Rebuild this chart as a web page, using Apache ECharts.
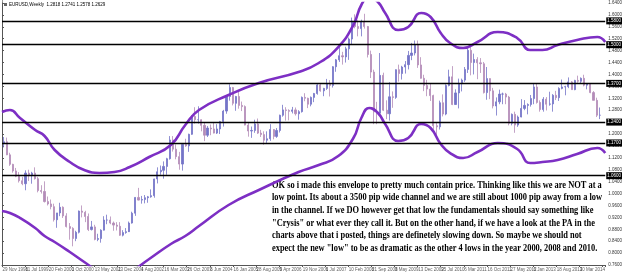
<!DOCTYPE html>
<html>
<head>
<meta charset="utf-8">
<script src="https://cdn.jsdelivr.net/npm/echarts@6/dist/echarts.min.js"></script>
<style>
html, body { margin: 0; padding: 0; background: #fff; }
#main { width: 625px; height: 274px; }
</style>
</head>
<body>
<div id="main"></div>
<script>
// EURUSD monthly bars, Dec 1998 .. Oct 2014 (open = previous close)
var firstOpen = 1.1700;
var closes = [1.1740,
  1.1300,1.0980,1.0760,1.0580,1.0430,1.0330,1.0690,1.0600,1.0690,1.0500,1.0100,1.0070,
  0.9730,0.9650,0.9560,0.9120,0.9350,0.9540,0.9250,0.8890,0.8830,0.8490,0.8700,0.9410,
  0.9370,0.9230,0.8790,0.8880,0.8460,0.8490,0.8770,0.9110,0.9110,0.9010,0.8940,0.8900,
  0.8600,0.8690,0.8720,0.9010,0.9340,0.9870,0.9780,0.9800,0.9860,0.9890,0.9930,1.0490,
  1.0730,1.0780,1.0910,1.1170,1.1800,1.1490,1.1240,1.0990,1.1650,1.1600,1.1990,1.2590,
  1.2480,1.2480,1.2290,1.1960,1.2200,1.2170,1.2030,1.2170,1.2420,1.2770,1.3260,1.3560,
  1.3030,1.3260,1.2960,1.2920,1.2300,1.2100,1.2120,1.2340,1.2030,1.1980,1.1790,1.1840,
  1.2150,1.1920,1.2120,1.2630,1.2810,1.2790,1.2760,1.2810,1.2680,1.2750,1.3230,1.3200,
  1.3000,1.3230,1.3360,1.3650,1.3450,1.3530,1.3680,1.3630,1.4260,1.4490,1.4630,1.4590,
  1.4860,1.5190,1.5790,1.5610,1.5540,1.5760,1.5610,1.4670,1.4080,1.2740,1.2700,1.3970,
  1.2800,1.2680,1.3250,1.3230,1.4160,1.4030,1.4250,1.4330,1.4640,1.4720,1.5000,1.4320,
  1.3870,1.3630,1.3510,1.3290,1.2280,1.2240,1.3050,1.2670,1.3630,1.3920,1.2990,1.3380,
  1.3690,1.3810,1.4170,1.4810,1.4400,1.4500,1.4390,1.4360,1.3390,1.3860,1.3450,1.2940,
  1.3080,1.3340,1.3340,1.3240,1.2360,1.2660,1.2300,1.2570,1.2860,1.2960,1.2990,1.3190,
  1.3580,1.3060,1.2820,1.3170,1.3000,1.3010,1.3300,1.3220,1.3530,1.3580,1.3590,1.3750,
  1.3490,1.3800,1.3770,1.3870,1.3640,1.3690,1.3390,1.3130,1.2630,1.2630];
var highs = [1.1900,
  1.1880,1.1370,1.1000,1.0860,1.0720,1.0560,1.0780,1.0800,1.0730,1.0880,1.0560,1.0280,
  1.0410,0.9900,0.9800,0.9660,0.9350,0.9690,0.9570,0.9340,0.9010,0.8870,0.8750,0.9430,
  0.9600,0.9420,0.9330,0.9080,0.8950,0.8650,0.8800,0.9240,0.9290,0.9230,0.9060,0.9040,
  0.9040,0.8770,0.8840,0.9060,0.9390,0.9880,1.0190,0.9920,0.9950,0.9920,1.0140,1.0500,
  1.0880,1.0940,1.1080,1.1200,1.1930,1.1930,1.1650,1.1400,1.1680,1.1840,1.2010,1.2630,
  1.2900,1.2930,1.2450,1.2370,1.2270,1.2320,1.2390,1.2330,1.2440,1.2810,1.3300,1.3670,
  1.3580,1.3280,1.3480,1.3090,1.2960,1.2370,1.2250,1.2480,1.2520,1.2140,1.2090,1.2090,
  1.2330,1.2160,1.2200,1.2650,1.2980,1.2900,1.2830,1.2910,1.2890,1.2800,1.3260,1.3370,
  1.3220,1.3260,1.3380,1.3680,1.3680,1.3550,1.3850,1.3810,1.4280,1.4520,1.4970,1.4760,
  1.4930,1.5240,1.5910,1.6020,1.5820,1.5840,1.6038,1.5630,1.4800,1.4160,1.3080,1.4720,
  1.4060,1.3130,1.3740,1.3430,1.4170,1.4330,1.4290,1.4450,1.4790,1.5060,1.5140,1.5140,
  1.4580,1.3990,1.3820,1.3690,1.3320,1.2390,1.3120,1.3330,1.3670,1.4160,1.4280,1.3500,
  1.3860,1.3860,1.4250,1.4880,1.4940,1.4700,1.4580,1.4550,1.4420,1.4250,1.3870,1.3550,
  1.3230,1.3490,1.3390,1.3380,1.3280,1.2690,1.2750,1.2620,1.3170,1.3140,1.3030,1.3310,
  1.3710,1.3710,1.3130,1.3240,1.3240,1.3420,1.3340,1.3450,1.3570,1.3830,1.3620,1.3900,
  1.3780,1.3820,1.3960,1.3900,1.3990,1.3690,1.3700,1.3440,1.3220,1.2890];
var lows = [1.1550,
  1.1290,1.0930,1.0700,1.0550,1.0370,1.0280,1.0110,1.0420,1.0330,1.0470,1.0040,1.0000,
  0.9700,0.9600,0.9470,0.9060,0.8850,0.9240,0.9180,0.8860,0.8450,0.8228,0.8400,0.8660,
  0.9200,0.9040,0.8740,0.8760,0.8430,0.8400,0.8350,0.8760,0.8970,0.8970,0.8750,0.8760,
  0.8580,0.8560,0.8650,0.8740,0.8990,0.9250,0.9770,0.9660,0.9670,0.9690,0.9860,0.9860,
  1.0340,1.0630,1.0500,1.0630,1.1140,1.1410,1.1150,1.0800,1.0770,1.1570,1.1400,1.1970,
  1.2350,1.2350,1.2090,1.1760,1.1900,1.1960,1.2020,1.2000,1.2000,1.2250,1.2680,1.3120,
  1.2960,1.2780,1.2850,1.2770,1.2290,1.1910,1.1870,1.2040,1.2000,1.1900,1.1640,1.1700,
  1.1770,1.1820,1.1870,1.2050,1.2580,1.2450,1.2460,1.2690,1.2620,1.2480,1.2720,1.3100,
  1.2870,1.2930,1.3070,1.3320,1.3420,1.3270,1.3480,1.3260,1.3560,1.4090,1.4420,1.4330,
  1.4400,1.4490,1.5000,1.5550,1.5280,1.5280,1.5540,1.4570,1.3880,1.2330,1.2330,1.2610,
  1.2770,1.2500,1.2450,1.2880,1.3180,1.3760,1.3830,1.4030,1.4170,1.4480,1.4640,1.4220,
  1.3860,1.3440,1.3270,1.3110,1.2140,1.1880,1.2150,1.2590,1.2630,1.3600,1.2970,1.3000,
  1.2860,1.3430,1.3750,1.4050,1.3970,1.4000,1.3840,1.4050,1.3360,1.3150,1.3170,1.2860,
  1.2620,1.3000,1.3000,1.3000,1.2290,1.2290,1.2040,1.2240,1.2560,1.2800,1.2660,1.2920,
  1.3000,1.3020,1.2750,1.2750,1.2790,1.2950,1.2750,1.3140,1.3110,1.3500,1.3300,1.3540,
  1.3490,1.3470,1.3720,1.3700,1.3600,1.3500,1.3370,1.3130,1.2570,1.2500];

// envelope, sampled (weeks since 29 Nov 1998)
var envWeek  = [0,11,25,46,59,73,94,114,135,156,177,204,234,254,273,314,356,411,439,466,
                487,498,509,521,531,549,563,581,594,608,621,639,659,687,714,732,749,770,797,825,836];
var envUpper = [1.2739,1.2806,1.2537,1.2134,1.1933,1.1462,1.1059,1.0790,1.0690,1.0723,1.0891,
                1.1227,1.1630,1.2302,1.2806,1.3310,1.3713,1.4082,1.4385,1.4922,1.5661,1.6333,
                1.6602,1.6434,1.6064,1.5493,1.5594,1.6064,1.5930,1.5392,1.5056,1.4888,1.5090,
                1.5426,1.5224,1.4821,1.4821,1.4989,1.5157,1.5258,1.5090];
var envLower = [0.9413,0.9346,0.9178,0.8842,0.8574,0.8372,0.8036,0.7700,0.7364,0.7230,0.7364,
                0.7801,0.8305,0.8574,0.8909,0.9615,1.0119,1.0723,1.0958,1.1261,1.1865,1.2537,
                1.2873,1.2705,1.2336,1.1765,1.1865,1.2336,1.2201,1.1664,1.1361,1.1194,1.1395,
                1.1697,1.1496,1.1026,1.1059,1.1126,1.1328,1.1529,1.1361];

var levels = [1.5795, 1.4956, 1.3679, 1.2403, 1.1731, 1.0555];

var dateLabels = ['29 Nov 1998','11 Jul 1999','20 Feb 2000','1 Oct 2000','13 May 2001','23 Dec 2001',
  '4 Aug 2002','16 Mar 2003','26 Oct 2003','6 Jun 2004','16 Jan 2005','28 Aug 2005','9 Apr 2006',
  '19 Nov 2006','1 Jul 2007','10 Feb 2008','21 Sep 2008','3 May 2009','13 Dec 2009','25 Jul 2010',
  '6 Mar 2011','16 Oct 2011','27 May 2012','6 Jan 2013','18 Aug 2013','30 Mar 2014'];

var header = 'EURUSD,Weekly  1.2818 1.2741 1.2578 1.2629';
var note = [
  'OK so i made this envelope to pretty much contain price. Thinking like this we are NOT at a',
  'low point. Its about a 3500 pip wide channel and we are still about 1000 pip away from a low',
  'in the channel. If we DO however get that low the fundamentals should say something like',
  '"Crysis" or what ever they call it. But on the other hand, if we have a look at the PA in the',
  'charts above that i posted, things are definetely slowing down. So maybe we should not',
  'expect the new "low" to be as dramatic as the other 4 lows in the year 2000, 2008 and 2010.'
];

var t0 = Date.UTC(1998, 10, 29);
var WEEK = 7 * 86400000;
var bars = closes.map(function (c, i) {
  var yr = 1998 + Math.floor((11 + i) / 12), m = (11 + i) % 12;
  var w = (Date.UTC(yr, m, 15) - t0) / WEEK;
  var o = i ? closes[i - 1] : firstOpen;
  return [w, o, c, lows[i], highs[i]];
});
var upper = envWeek.map(function (w, i) { return [w, envUpper[i]]; });
var lower = envWeek.map(function (w, i) { return [w, envLower[i]]; });
var ticks = dateLabels.map(function (d, i) { return [i * 32, 0.76, d]; });

// squeeze the note so its widest line fits the space it has in the picture
var noteFont = 'bold 10px "Liberation Serif"';
var ctx = document.createElement('canvas').getContext('2d');
ctx.font = noteFont;
var noteScale = 330 / ctx.measureText(note[1]).width;

var myChart = echarts.init(document.getElementById('main'));
var option = {
  animation: false,
  backgroundColor: '#fff',
  grid: { left: 2, right: 17, top: 3, bottom: 9 },
  xAxis: {
    type: 'value', min: 0, max: 836, interval: 32,
    axisLine: { lineStyle: { color: '#555', width: 1 } },
    axisTick: { length: 2, lineStyle: { color: '#555' } },
    splitLine: { show: false },
    axisLabel: { show: false }
  },
  yAxis: {
    type: 'value', position: 'right', min: 0.76, max: 1.64, interval: 0.04,
    axisLine: { show: true, lineStyle: { color: '#555', width: 1 } },
    axisTick: { show: true, length: 2, lineStyle: { color: '#555' } },
    splitLine: { show: false },
    axisLabel: {
      fontSize: 4.5, color: '#333', margin: 3, fontFamily: 'Liberation Sans',
      formatter: function (v) { return v.toFixed(4); }
    }
  },
  series: [
    {
      type: 'candlestick',
      data: bars,
      encode: { x: 0, y: [1, 2, 3, 4] },
      barWidth: 1.6,
      itemStyle: {
        color: '#7474c8', color0: '#b48cb8',
        borderColor: '#7474c8', borderColor0: '#b48cb8', borderWidth: 0.8
      },
      markLine: {
        silent: true, symbol: ['none', 'none'],
        lineStyle: { color: '#000', width: 1.3, type: 'solid' },
        label: {
          position: 'end', distance: 1, fontSize: 4.5, color: '#fff',
          backgroundColor: '#000', padding: [1, 1],
          fontFamily: 'Liberation Sans',
          formatter: function (p) { return p.value.toFixed(4); }
        },
        data: levels.map(function (v) { return { yAxis: v }; })
      }
    },
    {
      type: 'line', data: upper, smooth: 0.5, symbol: 'none', clip: true,
      lineStyle: { color: '#7d2fc4', width: 2.6 }
    },
    {
      type: 'line', data: lower, smooth: 0.5, symbol: 'none', clip: true,
      lineStyle: { color: '#7d2fc4', width: 2.6 }
    },
    {
      // date labels under the time axis, left-aligned on their ticks
      type: 'scatter', data: ticks, symbol: 'rect', symbolSize: 1, clip: false,
      itemStyle: { color: 'rgba(0,0,0,0)' }, silent: true,
      label: {
        show: true, position: [1, 3], align: 'left', verticalAlign: 'top',
        fontSize: 4.5, color: '#333', fontFamily: 'Liberation Sans',
        formatter: function (p) { return p.data[2]; }
      }
    }
  ],
  graphic: [
    { type: 'line', shape: { x1: 2.5, y1: 0, x2: 2.5, y2: 265 }, style: { stroke: '#999', lineWidth: 1 } },
    { type: 'rect', shape: { x: 4, y: 3, width: 3, height: 3 }, style: { fill: '#666' } },
    { type: 'text', left: 9, top: 2, style: { text: header, font: '4.5px "Liberation Sans"', fill: '#000' } },
    {
      type: 'text', x: 272, y: 179, scaleX: noteScale,
      style: {
        text: note.join('\n'), font: noteFont, align: 'left', verticalAlign: 'top',
        lineHeight: 12.6, fill: '#000'
      }
    }
  ]
};
myChart.setOption(option);
</script>
</body>
</html>
